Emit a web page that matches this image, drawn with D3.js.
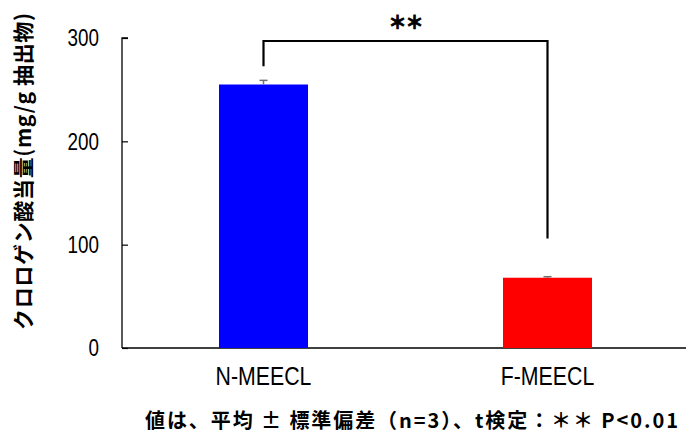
<!DOCTYPE html>
<html>
<head>
<meta charset="utf-8">
<script src="https://cdn.jsdelivr.net/npm/d3@7"></script>
<style>
  html, body { margin: 0; padding: 0; background: #fff; }
  svg { display: block; }
</style>
</head>
<body>
<svg id="chart" width="686" height="436"></svg>
<script>
// Chlorogenic acid equivalent content of two extracts (mean ± SD, n=3)
const categories = ["N-MEECL", "F-MEECL"];
const means = [255, 68];
const sds = [4, 1];
const barColors = ["#0000ff", "#ff0000"];
const yTicks = [0, 100, 200, 300];
const bracketRightEnd = 106;   // lower end of the right bracket leg, in data units
const yLabel = "クロロゲン酸当量(mg/g 抽出物)";
const sigMarks = ["＊", "＊"];
const footnote = "値は、平均 ± 標準偏差（n=3）、t検定：＊＊ P<0.01";

const svg = d3.select("#chart");
const narrow = 0.82;   // horizontal squeeze for the condensed Latin labels
const latinFont = "'Liberation Sans', Arial, sans-serif";
const cjkFont = "'Noto Sans CJK JP', sans-serif";

const xc = d3.scalePoint().domain(categories).range([263.5, 547.5]);
const barW = 89;
const y = d3.scaleLinear().domain([0, 300]).range([348, 38]);

// Y axis with inward ticks
const yAxis = d3.axisRight(y).tickValues(yTicks).tickSize(6).tickFormat("");
const gy = svg.append("g").attr("transform", "translate(122,0)").call(yAxis);
gy.select(".domain").attr("stroke", "#000").attr("stroke-width", 1.3)
  .attr("d", `M6,${y(300)}H0V${y(0)}`);
gy.selectAll(".tick line").attr("stroke", "#000").attr("stroke-width", 1.2);

svg.append("g").selectAll("text").data(yTicks).join("text")
  .attr("transform", d => `translate(99,${y(d)}) scale(${narrow},1)`)
  .attr("dy", "0.36em")
  .attr("text-anchor", "end")
  .attr("font-family", latinFont)
  .attr("font-size", 23)
  .attr("fill", "#000")
  .text(d => d);

// X axis baseline
svg.append("line")
  .attr("x1", 122).attr("x2", 686)
  .attr("y1", y(0)).attr("y2", y(0))
  .attr("stroke", "#000").attr("stroke-width", 1.5);

// Bars
svg.append("g").selectAll("rect").data(categories).join("rect")
  .attr("x", d => xc(d) - barW / 2)
  .attr("width", barW)
  .attr("y", (d, i) => y(means[i]))
  .attr("height", (d, i) => y(0) - y(means[i]))
  .attr("fill", (d, i) => barColors[i]);

// Error bars (upper)
const eb = svg.append("g").attr("stroke", "#707070").attr("stroke-width", 1.5);
categories.forEach((c, i) => {
  const cx = xc(c);
  eb.append("line").attr("x1", cx).attr("x2", cx)
    .attr("y1", y(means[i])).attr("y2", y(means[i] + sds[i]));
  eb.append("line").attr("x1", cx - 4).attr("x2", cx + 4)
    .attr("y1", y(means[i] + sds[i])).attr("y2", y(means[i] + sds[i]));
});

// Category labels
svg.append("g").selectAll("text").data(categories).join("text")
  .attr("transform", d => `translate(${xc(d)},385) scale(${narrow},1)`)
  .attr("text-anchor", "middle")
  .attr("font-family", latinFont)
  .attr("font-size", 26)
  .attr("fill", "#000")
  .text(d => d);

// Significance bracket
const bracketTop = 41;
svg.append("path")
  .attr("d", `M${xc(categories[0])},${y(means[0] + sds[0]) - 14}V${bracketTop}H${xc(categories[1])}V${y(bracketRightEnd)}`)
  .attr("fill", "none").attr("stroke", "#000").attr("stroke-width", 2.2);

const midX = (xc(categories[0]) + xc(categories[1])) / 2;
svg.append("g").selectAll("text").data(sigMarks).join("text")
  .attr("x", (d, i) => midX + (i === 0 ? -8 : 9))
  .attr("y", 21)
  .attr("dominant-baseline", "central")
  .attr("text-anchor", "middle")
  .attr("font-family", cjkFont)
  .attr("font-size", 18).attr("font-weight", "900")
  .attr("stroke", "#000").attr("stroke-width", 0.8)
  .attr("fill", "#000")
  .text(d => d);

// Y axis title
svg.append("text")
  .attr("transform", `translate(31,${(13 + 330) / 2}) rotate(-90)`)
  .attr("text-anchor", "middle")
  .attr("font-family", cjkFont)
  .attr("font-size", 21).attr("font-weight", "bold")
  .attr("textLength", 317).attr("lengthAdjust", "spacing")
  .attr("fill", "#000")
  .text(yLabel);

// Footnote
svg.append("text")
  .attr("x", 145).attr("y", 428)
  .attr("font-family", cjkFont)
  .attr("font-size", 20).attr("font-weight", "bold")
  .attr("textLength", 533).attr("lengthAdjust", "spacing")
  .attr("fill", "#000")
  .text(footnote);
</script>
</body>
</html>
